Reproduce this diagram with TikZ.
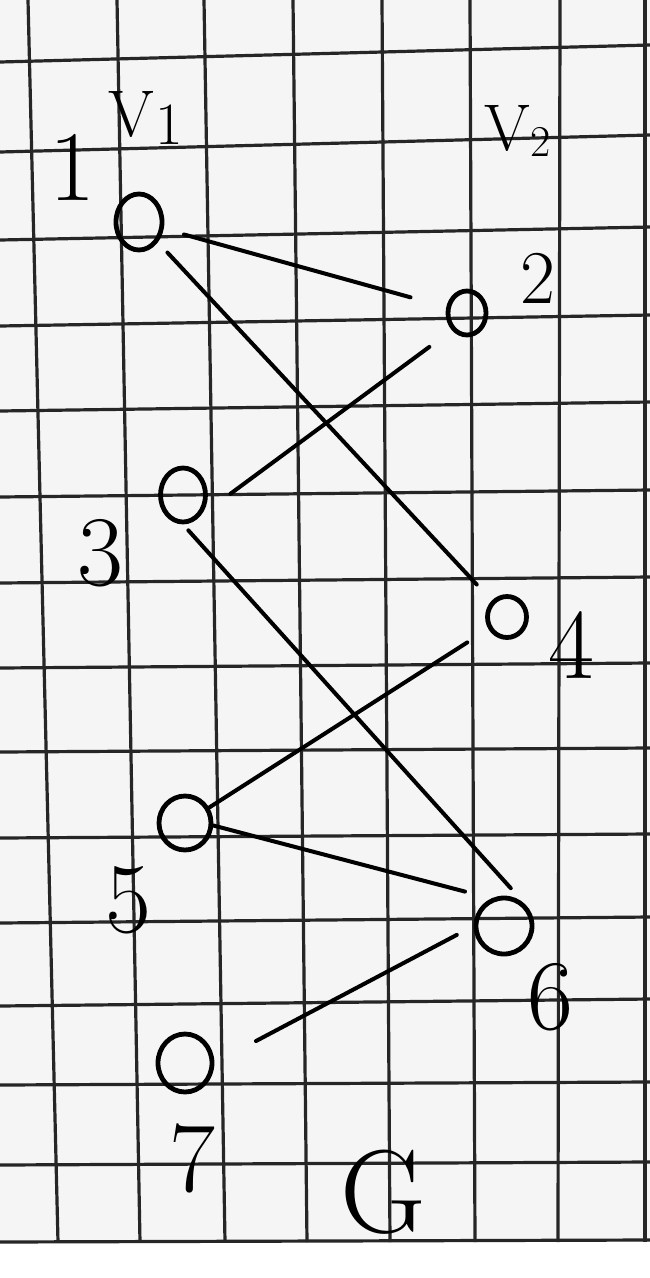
\documentclass[tikz,border=0pt]{standalone}
\usetikzlibrary{shapes.geometric}
\begin{document}
\begin{tikzpicture}[x=1pt,y=-1pt,
  gridline/.style={draw=black!85,line width=3.2pt},
  vert/.style={draw,ellipse,line width=4.8pt,inner sep=0pt},
  edge/.style={line width=4pt,line cap=round},
  lab/.style={inner sep=0pt,font=\fontsize{100}{100}\selectfont},
  setlab/.style={inner sep=0pt,font=\fontsize{66}{66}\selectfont}]
\useasboundingbox (0,0) rectangle (650,1278);
\fill[white] (0,0) rectangle (650,1278);
\fill[black!4] (0,0) rectangle (650,1242);
% grid
\foreach \a/\b in {28/58,117/140,204/225,293/307,382/390,470/475,560/558,645/645}
  \draw[gridline] (\a,0) -- (\b,1242);
\foreach \l/\r in {62/45,152/135,240/227,326/315,411/402,497/490,583/577,668/663,752/748,838/834,923/917,1006/999,1085/1082,1165/1162,1242/1240}
  \draw[gridline] (0,\l) -- (650,\r);
% vertices
\node[vert,minimum width=46pt,minimum height=56pt] (n1) at (139,222) {};
\node[vert,minimum width=38pt,minimum height=44pt] (n2) at (467,313) {};
\node[vert,minimum width=45pt,minimum height=54pt] (n3) at (183,495) {};
\node[vert,minimum width=39pt,minimum height=41pt] (n4) at (507,617) {};
\node[vert,minimum width=52pt,minimum height=54pt] (n5) at (185,823) {};
\node[vert,minimum width=56pt,minimum height=56pt] (n6) at (504,926) {};
\node[vert,minimum width=54pt,minimum height=58pt] (n7) at (185,1063) {};
% edges
\draw[edge,shorten <=21pt,shorten >=37pt] (n1) -- (n2);
\draw[edge,shorten <=14pt,shorten >=22pt] (n1) -- (n4);
\draw[edge,shorten <=28pt,shorten >=37pt] (n2.south west) -- (n3.south east);
\draw[edge,shorten <=8pt,shorten >=22pt] (n3.south) -- (n6.north east);
\draw[edge,shorten <=25pt,shorten >=0pt] (n4) -- (n5);
\draw[edge,shorten <=0pt,shorten >=27pt] (n5.-5) -- (n6.115);
\draw[edge,shorten <=19pt,shorten >=47pt] (n6.west) -- (n7.east);
% labels
\node[lab] (l1) at (72,167) {1};
\node[lab,font=\fontsize{76}{76}\selectfont] (l2) at (538,278) {2};
\node[lab] (l3) at (100,553) {3};
\node[lab] (l4) at (571,645) {4};
\node[lab] (l5) at (128,900) {5};
\node[lab] (l6) at (550,997) {6};
\node[lab] (l7) at (192,1158) {7};
\node[setlab,anchor=base west] (v1) at (108,136) {V\kern2pt\raisebox{-8pt}{\fontsize{60}{60}\selectfont 1}};
\node[setlab,anchor=base west] (v2) at (484,150) {V\kern1pt\raisebox{-6pt}{\fontsize{44}{44}\selectfont 2}};
\node[lab,font=\fontsize{118}{118}\selectfont] (g) at (383,1192) {G};
\end{tikzpicture}
\end{document}
